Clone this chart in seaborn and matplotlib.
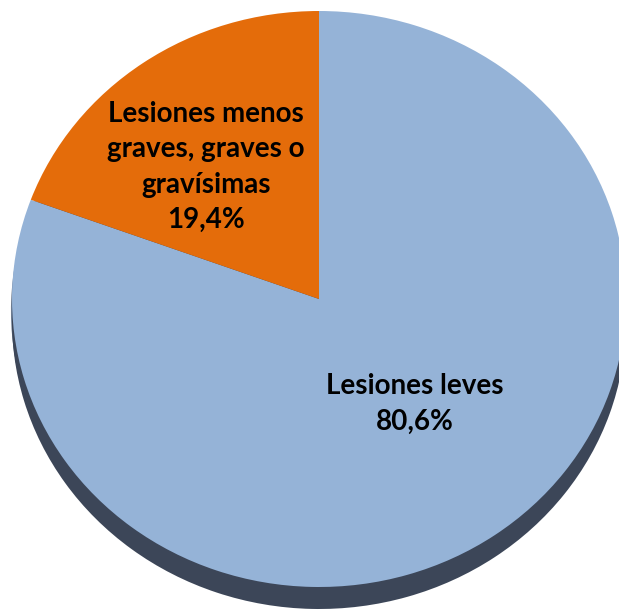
import numpy as np
import matplotlib
matplotlib.use("Agg")
import matplotlib.pyplot as plt
import seaborn as sns

# data
labels = ["Lesiones leves", "Lesiones menos\ngraves, graves o\ngravísimas"]
values = [80.6, 19.4]
pct_labels = ["80,6%", "19,4%"]

sns.set_theme(style="white")
plt.rcParams['font.family'] = ['Lato', 'DejaVu Sans']

colors = ["#95b3d7", "#e46c0a"]
rim = "#3c4658"

W, H = 619, 613
rx, ry = 307, 288
sx = ry / rx  # x data unit scale so the circle becomes an ellipse
cx, cy = 319, 299

fig = plt.figure(figsize=(W / 100, H / 100), dpi=100)
ax = fig.add_axes([0, 0, 1, 1])

center = (cx * sx, H - cy)

# 3D rim underneath, lighter towards the left
for dx, dy, c in [(-1, -12, "#6b7a8f"), (0, -18, "#4d5a6d"), (0, -22, rim)]:
    ax.pie(values, colors=[c, c], startangle=90, counterclock=False,
           radius=ry, center=(cx * sx + dx, H - cy + dy), frame=True,
           wedgeprops=dict(linewidth=0))
ax.pie(values, colors=colors, startangle=90, counterclock=False,
       radius=ry, center=center, frame=True,
       wedgeprops=dict(linewidth=0))
ax.set_aspect('auto')
ax.set_xlim(0, W * sx)
ax.set_ylim(0, H)
ax.axis('off')

ax.text(415 * sx, H - 404, labels[0] + "\n" + pct_labels[0], ha='center', va='center',
        fontsize=20, fontweight='bold', color='black', linespacing=1.45)
ax.text(206 * sx, H - 167, labels[1] + "\n" + pct_labels[1], ha='center', va='center',
        fontsize=20, fontweight='bold', color='black', linespacing=1.45)

fig.savefig("out.png", dpi=100)
